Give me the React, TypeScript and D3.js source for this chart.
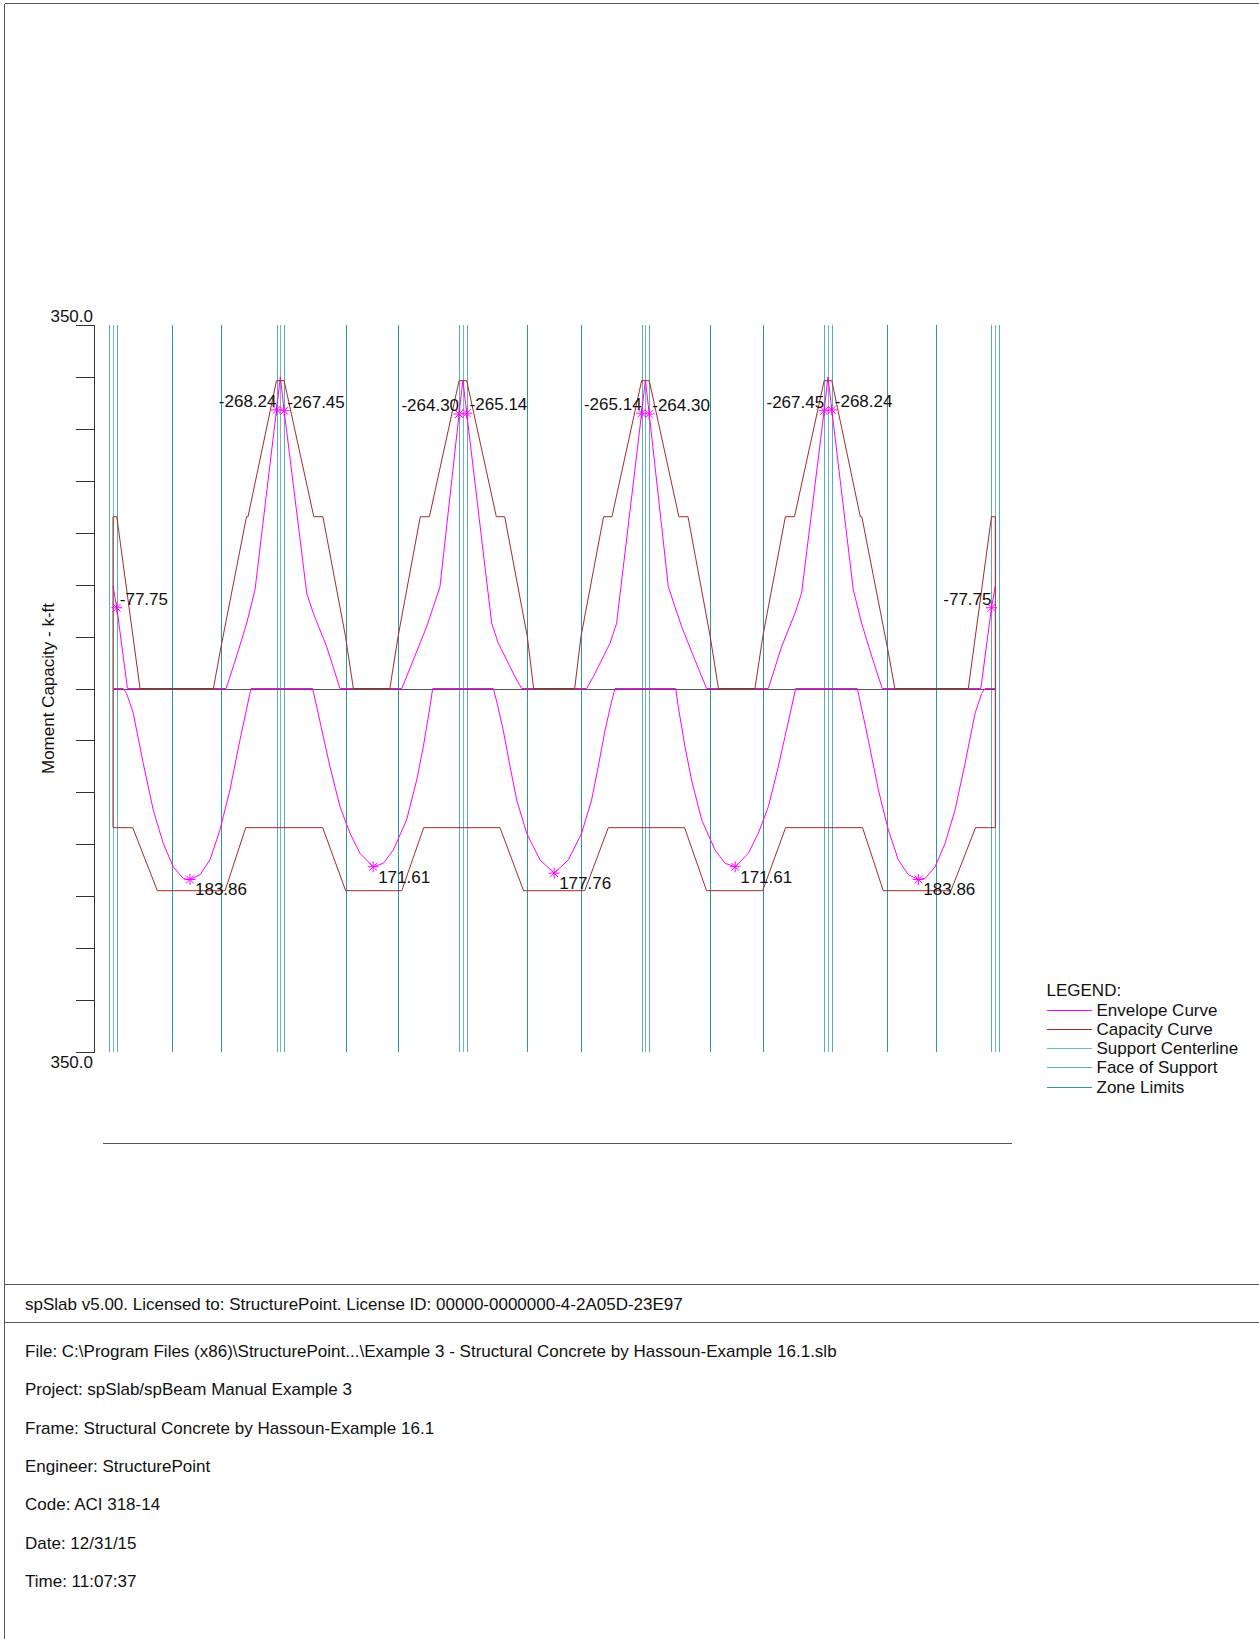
import React, { useEffect } from 'react';
import * as d3 from 'd3';

// ---------- DATA (ft along frame, moment k-ft; negative = hogging, drawn upward) ----------
const supports = [0, 22, 46, 70, 94, 116];
const faceHalfWidth = 0.5;
const zoneLimits = [7.8, 14.2, 30.57, 37.48, 54.47, 61.47, 78.48, 85.43, 101.8, 108.2];

const capacityNeg: [number, number][] = [
  [0, -165.4], [0.5, -165.4], [3.55, 0], [13.2, 0], [14.2, -40], [17.55, -165.4], [17.75, -165.4],
  [21.5, -296.4], [22.5, -296.4], [26.4, -165.4], [27.6, -165.4], [30.57, -50], [31.6, 0],
  [36.4, 0], [37.48, -50], [40.4, -165.4], [41.6, -165.4], [45.5, -296.4], [46.5, -296.4],
  [50.4, -165.4], [51.5, -165.4], [54.47, -50], [55.3, 0],
  [60.7, 0], [61.53, -50], [64.5, -165.4], [65.6, -165.4], [69.5, -296.4], [70.5, -296.4],
  [74.4, -165.4], [75.6, -165.4], [78.52, -50], [79.6, 0], [84.4, 0], [85.43, -50],
  [88.4, -165.4], [89.6, -165.4], [93.5, -296.4], [94.5, -296.4], [98.25, -165.4], [98.45, -165.4],
  [101.8, -40], [102.8, 0], [112.45, 0], [115.5, -165.4], [116, -165.4],
];

const capacityPos: [number, number][] = [
  [0, 134], [2.6, 134], [5.83, 194.7], [14.73, 194.7], [17.45, 134],
  [27.57, 134], [30.59, 194.7], [37.96, 194.7], [40.85, 134],
  [50.88, 134], [53.98, 194.7], [62.02, 194.7], [65.12, 134],
  [75.15, 134], [78.04, 194.7], [85.41, 194.7], [88.43, 134],
  [98.55, 134], [101.27, 194.7], [110.17, 194.7], [113.4, 134], [116, 134],
];

const envelopeNegSupport0: [number, number][] = [[0, -98.7], [0.5, -77.75], [1.9, 0]];
const envelopeNegSupport1: [number, number][] = [
  [14.86, 0], [15.5, -14], [16.5, -37], [17.58, -63], [18.67, -95], [21.5, -268.24], [22, -300],
  [22.5, -267.45], [25.47, -91.7], [26.34, -72.4], [28.1, -40.2], [29.84, 0],
];
const envelopeNegSupport2: [number, number][] = [
  [37.96, 0], [39.48, -27.4], [41.24, -59.5], [42.99, -98], [45.5, -264.3], [46, -297],
  [46.5, -265.14], [49.79, -62.8], [50.66, -43.5], [51.76, -27.4], [52.85, -11.4], [53.73, 0],
];
const envelopeNegSupport3: [number, number][] = [
  [62.27, 0], [63.15, -11.4], [64.24, -27.4], [65.34, -43.5], [66.21, -62.8], [69.5, -265.14], [70, -297],
  [70.5, -264.3], [73.01, -98], [74.76, -59.5], [76.52, -27.4], [78.04, 0],
];
const envelopeNegSupport4: [number, number][] = [
  [86.16, 0], [87.9, -40.2], [89.66, -72.4], [90.53, -91.7], [93.5, -267.45], [94, -300],
  [94.5, -268.24], [97.33, -95], [98.42, -63], [99.5, -37], [100.5, -14], [101.14, 0],
];
const envelopeNegSupport5: [number, number][] = [[114.1, 0], [115.5, -77.75], [116, -98.7]];

const envelopePosSpan1: [number, number][] = [
  [0, 0], [1.35, 0], [1.8, 4.8], [2.67, 24.1], [3.98, 72.2], [5.3, 117.2], [6.61, 149.2], [7.93, 171.8],
  [9.24, 183.0], [10.12, 183.86], [11.44, 179.3], [12.76, 164.8], [14.07, 136.0], [15.38, 97.5],
  [16.7, 49.3], [18.14, 0], [22, 0],
];
const envelopePosSpan2: [number, number][] = [
  [22, 0], [26.25, 0], [26.78, 17.5], [27.65, 46.4], [28.53, 75.3], [29.84, 113.8], [31.16, 139.4],
  [32.47, 158.7], [34.2, 171.61], [35.54, 168.3], [36.85, 155.5], [38.6, 126.6], [39.93, 88.1],
  [40.8, 56], [41.68, 17.5], [42.03, 0], [46, 0],
];
const envelopePosSpan3: [number, number][] = [
  [46, 0], [50, 0], [50.5, 14], [51.3, 40], [52.2, 75], [53.08, 107.4], [54.39, 139.4], [56.14, 165.1],
  [58, 177.76], [59.86, 165.1], [61.61, 139.4], [62.92, 107.4], [63.8, 75], [64.7, 40], [65.5, 14],
  [66, 0], [70, 0],
];
const envelopePosSpan4: [number, number][] = [
  [70, 0], [73.97, 0], [74.32, 17.5], [75.2, 56], [76.07, 88.1], [77.4, 126.6], [79.15, 155.5],
  [80.46, 168.3], [81.8, 171.61], [83.53, 158.7], [84.84, 139.4], [86.16, 113.8], [87.47, 75.3],
  [88.35, 46.4], [89.22, 17.5], [89.75, 0], [94, 0],
];
const envelopePosSpan5: [number, number][] = [
  [94, 0], [97.86, 0], [99.3, 49.3], [100.62, 97.5], [101.93, 136.0], [103.24, 164.8], [104.56, 179.3],
  [105.88, 183.86], [106.76, 183.0], [108.07, 171.8], [109.39, 149.2], [110.7, 117.2], [112.02, 72.2],
  [113.33, 24.1], [114.2, 4.8], [114.65, 0], [116, 0],
];

// one continuous negative and one continuous positive envelope along the frame
const envelopeNeg: [number, number][] = [
  ...envelopeNegSupport0, ...envelopeNegSupport1, ...envelopeNegSupport2,
  ...envelopeNegSupport3, ...envelopeNegSupport4, ...envelopeNegSupport5,
];
const envelopePos: [number, number][] = [
  ...envelopePosSpan1, ...envelopePosSpan2, ...envelopePosSpan3, ...envelopePosSpan4, ...envelopePosSpan5,
];

// labelled extreme values: [x ft, value, label, side]
const negLabels: [number, number, string, 'left' | 'right'][] = [
  [0.5, -77.75, '-77.75', 'right'],
  [21.5, -268.24, '-268.24', 'left'], [22.5, -267.45, '-267.45', 'right'],
  [45.5, -264.3, '-264.30', 'left'], [46.5, -265.14, '-265.14', 'right'],
  [69.5, -265.14, '-265.14', 'left'], [70.5, -264.3, '-264.30', 'right'],
  [93.5, -267.45, '-267.45', 'left'], [94.5, -268.24, '-268.24', 'right'],
  [115.5, -77.75, '-77.75', 'left'],
];
const posLabels: [number, number, string][] = [
  [10.12, 183.86, '183.86'], [34.2, 171.61, '171.61'], [58, 177.76, '177.76'],
  [81.8, 171.61, '171.61'], [105.88, 183.86, '183.86'],
];

const yTickValues = [-350, -300, -250, -200, -150, -100, -50, 0, 50, 100, 150, 200, 250, 300, 350];
const yEndLabels = ['350.0', '350.0'];
const yTitle = 'Moment Capacity - k-ft';

const legendItems: [string, string][] = [
  ['Envelope Curve', '#FF00FF'],
  ['Capacity Curve', '#A52A2A'],
  ['Support Centerline', '#6FBABA'],
  ['Face of Support', '#5AAEAE'],
  ['Zone Limits', '#2F9595'],
];

const footerHeader = 'spSlab v5.00. Licensed to: StructurePoint. License ID: 00000-0000000-4-2A05D-23E97';
const footerLines = [
  'File: C:\\Program Files (x86)\\StructurePoint...\\Example 3 - Structural Concrete by Hassoun-Example 16.1.slb',
  'Project: spSlab/spBeam Manual Example 3',
  'Frame: Structural Concrete by Hassoun-Example 16.1',
  'Engineer: StructurePoint',
  'Code: ACI 318-14',
  'Date: 12/31/15',
  'Time: 11:07:37',
];

// ---------- COMPONENT ----------
const W = 1259;
const H = 1639;
const FONT = '"Liberation Sans", Arial, Helvetica, sans-serif';
const FS = 17;

export default function App() {
  useEffect(() => {
    document.body.style.margin = '0';
    document.body.style.overflow = 'hidden';
  }, []);

  const x = d3.scaleLinear().domain([0, 116]).range([113, 995.3]);
  const y = d3.scaleLinear().domain([-350, 350]).range([325, 1052]);
  const line = d3.line<[number, number]>().x(d => x(d[0])).y(d => y(d[1]));
  const cx = (v: number) => Math.round(x(v)) + 0.5;

  const yTop = y(-350);
  const yBot = y(350);
  const axisX = 94.5;

  const capPath = line([...capacityPos, ...capacityNeg.slice().reverse()]) + 'Z';

  const star = (sx: number, sy: number, k: string) => {
    const r = 5.5;
    const d = r * 0.72;
    return (
      <g key={k} stroke="#FF00FF" strokeWidth={1}>
        <line x1={sx - r} y1={sy} x2={sx + r} y2={sy} />
        <line x1={sx} y1={sy - r} x2={sx} y2={sy + r} />
        <line x1={sx - d} y1={sy - d} x2={sx + d} y2={sy + d} />
        <line x1={sx - d} y1={sy + d} x2={sx + d} y2={sy - d} />
      </g>
    );
  };

  const legendX = 1046.5;
  const legendY0 = 1009.5;
  const legendDy = 19.3;

  return (
    <svg width={W} height={H} style={{ position: 'absolute', left: 0, top: 0, background: '#fff' }}
      fontFamily={FONT}>
      <rect x={0} y={0} width={W} height={H} fill="#fff" />
      {/* page frame */}
      <g stroke="#555" strokeWidth={1} shapeRendering="crispEdges" fill="none">
        <line x1={4.5} y1={3.5} x2={W} y2={3.5} />
        <line x1={4.5} y1={3.5} x2={4.5} y2={H} />
        <line x1={4.5} y1={1284.5} x2={W} y2={1284.5} />
        <line x1={4.5} y1={1322.5} x2={W} y2={1322.5} />
      </g>

      {/* zone limits */}
      <g stroke="#2F9595" strokeWidth={1} shapeRendering="crispEdges">
        {zoneLimits.map((z, i) => <line key={i} x1={cx(z)} x2={cx(z)} y1={yTop} y2={yBot} />)}
      </g>
      {/* faces of support */}
      <g stroke="#5AAEAE" strokeWidth={1} shapeRendering="crispEdges">
        {supports.flatMap((s, i) => [
          <line key={'l' + i} x1={cx(s - faceHalfWidth)} x2={cx(s - faceHalfWidth)} y1={yTop} y2={yBot} />,
          <line key={'r' + i} x1={cx(s + faceHalfWidth)} x2={cx(s + faceHalfWidth)} y1={yTop} y2={yBot} />,
        ])}
      </g>
      {/* support centerlines */}
      <g stroke="#6FBABA" strokeWidth={1} shapeRendering="crispEdges">
        {supports.map((s, i) => <line key={i} x1={cx(s)} x2={cx(s)} y1={yTop} y2={yBot} />)}
      </g>

      {/* zero axis */}
      <line x1={x(0)} x2={x(116)} y1={Math.round(y(0)) + 0.5} y2={Math.round(y(0)) + 0.5}
        stroke="#555" strokeWidth={1} shapeRendering="crispEdges" />

      {/* envelope curves */}
      <g fill="none" stroke="#FF00FF" strokeWidth={1}>
        <path d={line(envelopePos) || ''} />
        <path d={line(envelopeNeg) || ''} />
      </g>

      {/* capacity curve */}
      <path d={capPath} fill="none" stroke="#A52A2A" strokeWidth={1} />

      {/* y axis */}
      <g stroke="#333" strokeWidth={1} shapeRendering="crispEdges">
        <line x1={axisX} x2={axisX} y1={yTop} y2={yBot} />
        {yTickValues.map(t => (
          <line key={t} x1={76} x2={axisX} y1={Math.round(y(t)) + 0.5} y2={Math.round(y(t)) + 0.5} />
        ))}
      </g>
      <text x={93} y={321.5} textAnchor="end" fontSize={FS} fill="#111">{yEndLabels[0]}</text>
      <text x={93} y={1068} textAnchor="end" fontSize={FS} fill="#111">{yEndLabels[1]}</text>
      <text transform={`translate(54,${y(0)}) rotate(-90)`} textAnchor="middle" fontSize={FS} fill="#111">
        {yTitle}
      </text>

      {/* markers and labels */}
      {negLabels.map(([xv, v, t, side], i) => {
        const sx = x(xv);
        const sy = y(v);
        return (
          <g key={'nl' + i}>
            {star(sx, sy, 's')}
            <text x={side === 'left' ? sx : sx + 3} y={sy - 3} textAnchor={side === 'left' ? 'end' : 'start'}
              fontSize={FS} fill="#111">{t}</text>
          </g>
        );
      })}
      {posLabels.map(([xv, v, t], i) => {
        const sx = x(xv);
        const sy = y(v);
        return (
          <g key={'pl' + i}>
            {star(sx, sy, 's')}
            <text x={sx + 5} y={sy + 16} fontSize={FS} fill="#111">{t}</text>
          </g>
        );
      })}

      {/* bottom rule */}
      <line x1={103} x2={1012} y1={1143.5} y2={1143.5} stroke="#555" strokeWidth={1} shapeRendering="crispEdges" />

      {/* legend */}
      <text x={legendX} y={legendY0 - legendDy + 6} fontSize={FS} fill="#111">LEGEND:</text>
      {legendItems.map(([label, color], i) => (
        <g key={label}>
          <line x1={legendX} x2={1091.5} y1={Math.round(legendY0 + i * legendDy) + 0.5}
            y2={Math.round(legendY0 + i * legendDy) + 0.5} stroke={color} strokeWidth={1} shapeRendering="crispEdges" />
          <text x={1096.5} y={legendY0 + i * legendDy + 6} fontSize={FS} fill="#111">{label}</text>
        </g>
      ))}

      {/* footer */}
      <text x={25} y={1310} fontSize={FS} fill="#111">{footerHeader}</text>
      {footerLines.map((t, i) => (
        <text key={i} x={25} y={1357 + i * 38.3} fontSize={FS} fill="#111">{t}</text>
      ))}
    </svg>
  );
}
